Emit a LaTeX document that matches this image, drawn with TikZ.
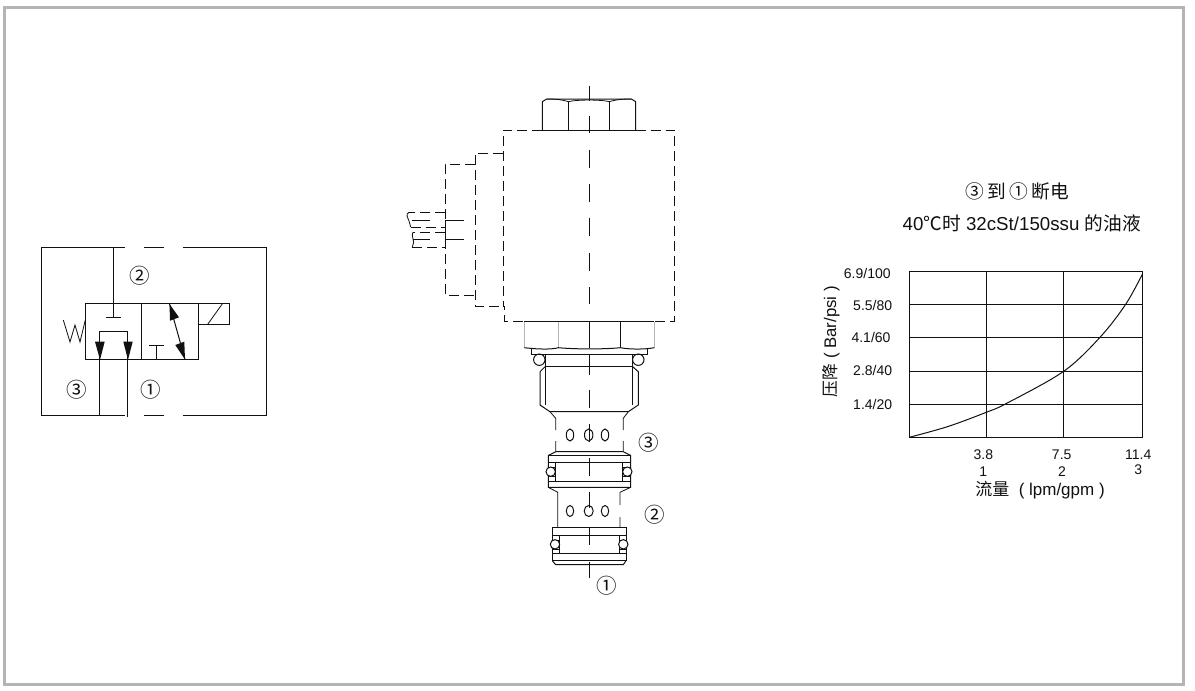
\documentclass[tikz,border=0pt]{standalone}
\usepackage{fontspec}
\setmainfont{Liberation Sans}
\newfontfamily\cjk{Noto Sans CJK SC}
\usetikzlibrary{calc}
\definecolor{framegray}{HTML}{B4B4B4}
\definecolor{ink}{HTML}{111111}
\tikzset{
  ln/.style={draw=ink,line width=1pt},
  thin ln/.style={draw=ink,line width=0.8pt},
  dsh/.style={draw=ink,line width=1pt,dash pattern=on 10pt off 5pt},
  ctr/.style={draw=ink,line width=1pt},
  tip/.style={fill=ink,draw=none},
  lbl/.style={inner sep=0pt,text=ink,font=\fontsize{14}{16}\selectfont},
  ttl/.style={inner sep=0pt,text=ink,font=\fontsize{18.7}{20}\selectfont},
  port/.style={inner sep=0pt,text=ink,font=\cjk\fontsize{20.5}{22}\selectfont}
}
\begin{document}
\begin{tikzpicture}[x=1pt,y=-1pt]
\useasboundingbox (0,0) rectangle (1195,691);
\fill[white] (0,0) rectangle (1195,691);
\draw[framegray,line width=3pt] (4.5,7.3) rectangle (1183.5,684.7);

% --- hydraulic symbol
\draw[ln] (125,247.3) -- (41.3,247.3) -- (41.3,415) -- (125,415);
\draw[ln] (144,247.3) -- (164,247.3) (183,247.3) -- (266.7,247.3) -- (266.7,415) -- (183,415) (164,415) -- (144,415);
\draw[ln] (113.3,247.3) -- (113.3,317) (106,317) -- (120.7,317);
\draw[ln] (85.3,303.3) rectangle (198.3,359.3);
\draw[ln] (141.3,303.3) -- (141.3,359.3);
\draw[ln] (198.3,303.3) rectangle (229.3,324.3);
\draw[thin ln] (207.7,324.3) -- (222.7,303.3);
\draw[thin ln] (63.3,320) -- (70,342) -- (75,325) -- (80,342) -- (85.3,320);
\draw[ln] (99.5,359.3) -- (99.5,331) -- (127.7,331) -- (127.7,359.3);
\fill[tip] (95,341.7) -- (104.7,341.7) -- (100,359.8) -- cycle;
\fill[tip] (123.3,341.7) -- (132.7,341.7) -- (128,359.8) -- cycle;
\draw[ln] (99.5,359.3) -- (99.5,415.5) (127.3,359.3) -- (127.3,416.5);
\draw[ln] (156.3,359.3) -- (156.3,345.3) (149,345.3) -- (163.7,345.3);
\draw[ln] (169.5,304) -- (185,359.3);
\fill[tip] (169.5,304) -- (170,320.7) -- (179,317.3) -- cycle;
\fill[tip] (185,359.5) -- (175.3,345) -- (184.3,341.7) -- cycle;
\node[port] (s2) at (139.7,276) {②};
\node[port] (s3) at (76.7,390) {③};
\node[port] (s1) at (150.7,390) {①};

% --- centre line
\draw[ctr] (589.3,86) -- (589.3,100.6) (589.3,116) -- (589.3,133) (589.3,150) -- (589.3,167.7)
  (589.3,184) -- (589.3,201.7) (589.3,217.7) -- (589.3,236) (589.3,253) -- (589.3,270.7)
  (589.3,287) -- (589.3,304) (589.3,321.7) -- (589.3,348) (589.3,355) -- (589.3,375)
  (589.3,390) -- (589.3,408) (589.3,424) -- (589.3,442) (589.3,458) -- (589.3,475.7)
  (589.3,492) -- (589.3,508) (589.3,527) -- (589.3,545) (589.3,561.7) -- (589.3,578.3);

% --- top nut
\draw[ln] (542.3,130.3) -- (542.3,101.7) -- (546.7,99) -- (631.3,99) -- (635.7,101.7) -- (635.7,130.3);
\draw[thin ln] (546.7,99) .. controls (553,98.8) and (562,99.5) .. (568.3,101.7)
  .. controls (576,99.5) and (602,99.5) .. (609.3,101.7)
  .. controls (616,99.5) and (625,98.8) .. (631.3,99);
\draw[ln] (568.3,101.7) -- (568.3,130.3) (609.3,101.7) -- (609.3,130.3);
\draw[ln] (542.3,130.3) -- (635.7,130.3);

% --- coil (dashed)
\draw[dsh] (542.3,130.3) -- (503.3,130.3) -- (503.3,306.7) -- (504.7,306.7) -- (504.7,321.5) -- (524,321.5);
\draw[dsh] (635.7,130.3) -- (674.7,130.3) -- (674.7,321.5) -- (654.3,321.5);
\draw[dsh] (503.3,153.3) -- (475.3,153.3) -- (475.3,306.7) -- (503.3,306.7);
\draw[dsh] (475.3,164.3) -- (445.3,164.3) -- (445.3,295.3) -- (475.3,295.3);
% --- connector (dashed/solid)
\draw[dsh] (445.3,212.3) -- (409,212.3);
\draw[thin ln] (409,212.3) .. controls (405,214) and (408,218) .. (409,221) -- (410.7,227);
\draw[dsh] (410.7,227) -- (445.3,227);
\draw[ln] (411.7,220.3) -- (430,220.3) (463.7,220.3) -- (445.3,220.3) -- (445.3,227);
\draw[dsh] (445.3,232.3) -- (413,232.3);
\draw[thin ln] (413,232.3) .. controls (411,235) and (414,240) .. (413.5,243) -- (412.3,247);
\draw[dsh] (412.3,247) -- (445.3,247);
\draw[ln] (412.5,239.3) -- (430,239.3) (463.7,239.3) -- (445.3,239.3) -- (445.3,232.3);

% --- big hex
\draw[ln] (524.3,321.5) -- (654.3,321.5);
\draw[framegray,line width=1pt] (524.3,321.5) -- (524.3,347.7) (558.3,321.5) -- (558.3,347.7) (654.3,321.5) -- (654.3,347.7);
\draw[ln] (620.3,321.5) -- (620.3,347.7);
\draw[ln] (524.3,347.7) .. controls (540,349.5) and (552,349.5) .. (558.3,347.7) .. controls (575,349.3) and (605,349.3) .. (620.3,347.7) .. controls (630,349.5) and (645,349.5) .. (654.3,347.7);
\draw[ln] (531,348.5) -- (531,354.3) -- (647.3,354.3) -- (647.3,348.5);
\draw[ln] (539.3,359.7) circle[radius=5.7] (638.3,359.7) circle[radius=5.7];
\draw[ln] (545,354.3) -- (545,405) (632.7,354.3) -- (632.7,405);
\draw[ln] (545,366.7) -- (632.7,366.7);
\draw[ln] (545,366.7) -- (540,371.7) -- (540,405) -- (550,411.7) -- (628.3,411.7) -- (638.3,405) -- (638.3,371.7) -- (632.7,366.7);
% upper neck
\draw[thin ln] (550,411.7) -- (555.7,418.3) -- (555.7,430) (555.7,441) -- (555.7,451.7);
\draw[thin ln] (628.3,411.7) -- (623.3,418.3) -- (623.3,430) (623.3,441) -- (623.3,451.7);
\draw[ln] (570,435) ellipse[x radius=3.7,y radius=6];
\draw[ln] (588.7,435) ellipse[x radius=4.2,y radius=6];
\draw[ln] (605,435) ellipse[x radius=3.7,y radius=6];
% upper groove
\draw[ln] (555.7,451.7) -- (623.3,451.7) (555.7,451.7) -- (548.3,455.5) -- (548.3,487.3) -- (630.7,487.3) -- (630.7,455.5) -- (623.3,451.7);
\draw[ln] (548.3,455.5) -- (630.7,455.5) (548.3,462.3) -- (630.7,462.3) (548.3,481.7) -- (630.7,481.7);
\draw[ln] (555,462.3) -- (555,481.7) (622.3,462.3) -- (622.3,481.7);
\draw[ln] (548.3,467.3) -- (555,467.3) (548.3,476.7) -- (555,476.7) (622.3,467.3) -- (630.7,467.3) (622.3,476.7) -- (630.7,476.7);
\draw[ln,fill=white] (550.7,471.7) circle[radius=4.7] (627.3,471.7) circle[radius=4.7];
% lower neck
\draw[thin ln] (548.3,487.3) -- (557.7,492.3) -- (557.7,527.3) (630.7,487.3) -- (620,492.3) -- (620,505) (620,517) -- (620,527.3);
\draw[ln] (570,511) ellipse[x radius=3.7,y radius=5.5];
\draw[ln] (588.7,511) ellipse[x radius=4.5,y radius=5.5];
\draw[ln] (605,511) ellipse[x radius=3.7,y radius=5.5];
% lower groove
\draw[ln] (552.3,527.3) rectangle (626,560.7);
\draw[ln] (552.3,535.3) -- (626,535.3) (552.3,553.3) -- (626,553.3);
\draw[ln] (559.3,535.3) -- (559.3,553.3) (619,535.3) -- (619,553.3);
\draw[ln] (552.3,540) -- (559.3,540) (552.3,549.3) -- (559.3,549.3) (619,540) -- (626,540) (619,549.3) -- (626,549.3);
\draw[ln] (552.3,560.7) -- (555.7,564.7) -- (623.3,564.7) -- (626,560.7);
\draw[ln,fill=white] (555,544.3) circle[radius=4.7] (623.3,544.3) circle[radius=4.7];
\node[port] (v3) at (649,442.7) {③};
\node[port] (v2) at (654.7,514.3) {②};
\node[port] (v1) at (606.3,586) {①};

% --- chart
\draw[ln] (909.3,271.3) rectangle (1142.3,437.3);
\draw[ln] (986.3,271.3) -- (986.3,437.3) (1063.7,271.3) -- (1063.7,437.3);
\draw[ln] (909.3,304.3) -- (1142.3,304.3) (909.3,337.3) -- (1142.3,337.3) (909.3,371.3) -- (1142.3,371.3) (909.3,404.3) -- (1142.3,404.3);
\draw[ln] plot[smooth,tension=0.55] coordinates {(909.3,437.3) (948,426.5) (986.3,412.3) (1006.7,403.3) (1063.7,371.3) (1100,337.3) (1125.7,304.3) (1142.3,274.3)};
\node[lbl] (y100) at (867.3,273.3) {6.9/100};
\node[lbl] (y80) at (872.7,305) {5.5/80};
\node[lbl] (y60) at (871,337.3) {4.1/60};
\node[lbl] (y40) at (872.7,370) {2.8/40};
\node[lbl] (y20) at (872.7,404.3) {1.4/20};
\node[lbl] (x1a) at (983.3,455) {3.8};
\node[lbl] (x1b) at (983.3,471.7) {1};
\node[lbl] (x2a) at (1061.7,455) {7.5};
\node[lbl] (x2b) at (1062,471.7) {2};
\node[lbl] (x3a) at (1138.3,455) {11.4};
\node[lbl] (x3b) at (1138.3,470) {3};
\node[lbl,font=\fontsize{17}{19}\selectfont] (xt) at (1040,490) {{\cjk 流量}\ \ ( lpm/gpm )};
\node[lbl,font=\fontsize{16.8}{19}\selectfont,rotate=90] (yt) at (830.7,341.7) {{\cjk 压降}\ ( Bar/psi )};
\node[ttl] (t1) at (1017.3,191.7) {{\cjk ③\,到\,①\,断电}};
\node[ttl] (t2) at (1021.7,223.3) {40{\cjk ℃时} 32cSt/150ssu {\cjk 的油液}};
\end{tikzpicture}
\end{document}
